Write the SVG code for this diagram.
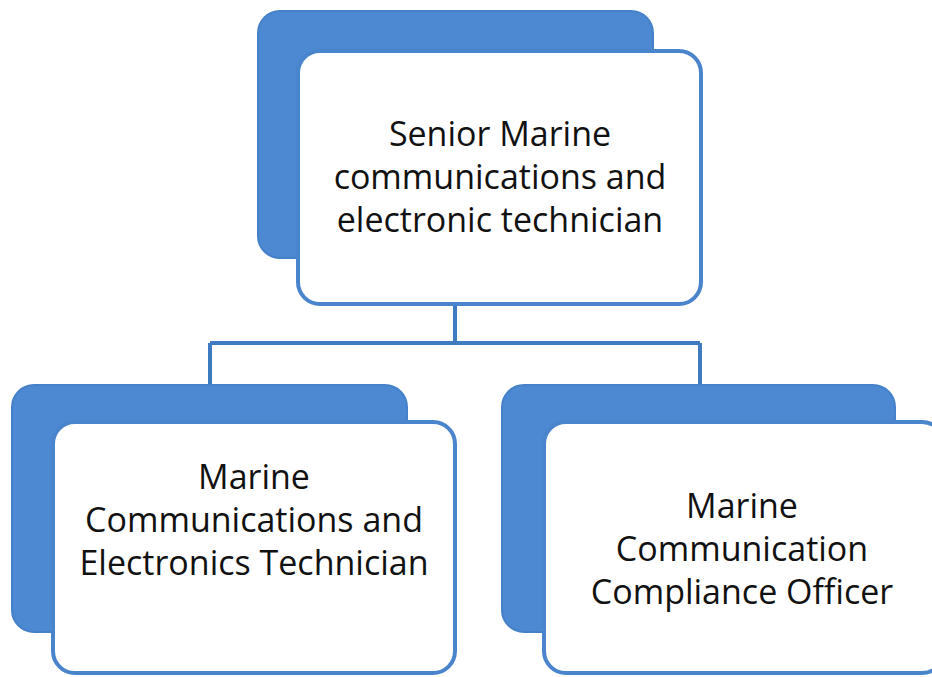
<svg xmlns="http://www.w3.org/2000/svg" width="932" height="677" viewBox="0 0 932 677">
<style>
.back{fill:#4D88D2;stroke:#4580C8;stroke-width:2}
.front{fill:#FFFFFF;stroke:#4A84CC;stroke-width:4}
.conn{fill:none;stroke:#3F7BC0;stroke-width:4}
text{font-family:"Open Sans","Liberation Sans",sans-serif;font-size:34px;fill:#111111;text-anchor:middle}
</style>
<rect width="932" height="677" fill="#FFFFFF"/>
<g id="connectors">
<path class="conn" d="M455 305 V343 M210 343 H700 M210 343 V385 M700 343 V385"/>
</g>
<g id="node-senior">
<rect class="back" x="258" y="11" width="395" height="247" rx="22"/>
<rect class="front" x="298" y="51" width="403" height="253" rx="22"/>
<text x="500" y="146">Senior Marine</text>
<text x="500" y="189">communications and</text>
<text x="500" y="232">electronic technician</text>
</g>
<g id="node-technician">
<rect class="back" x="12" y="385" width="395" height="247" rx="22"/>
<rect class="front" x="53" y="422" width="402" height="251" rx="22"/>
<text x="254" y="489">Marine</text>
<text x="254" y="532">Communications and</text>
<text x="254" y="575">Electronics Technician</text>
</g>
<g id="node-officer">
<rect class="back" x="502" y="385" width="393" height="247" rx="22"/>
<rect class="front" x="544" y="422" width="400" height="251" rx="22"/>
<text x="742" y="518">Marine</text>
<text x="742" y="561">Communication</text>
<text x="742" y="604">Compliance Officer</text>
</g>
</svg>
